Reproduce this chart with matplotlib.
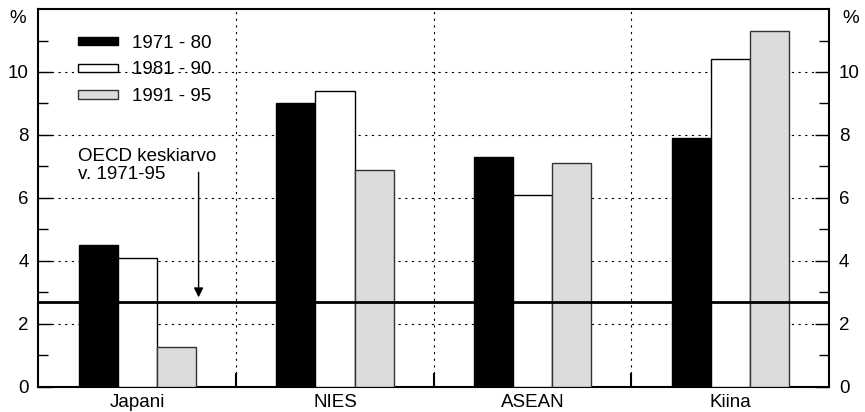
import numpy as np
import matplotlib.pyplot as plt
from matplotlib.patches import Patch

plt.rcParams['font.family'] = ['Liberation Sans', 'DejaVu Sans']

groups = ['Japani', 'NIES', 'ASEAN', 'Kiina']
periods = ['1971 - 80', '1981 - 90', '1991 - 95']
v_7180 = [4.5, 9.0, 7.3, 7.9]
v_8190 = [4.1, 9.4, 6.1, 10.4]
v_9195 = [1.25, 6.9, 7.1, 11.3]
oecd_avg = 2.7

series = [v_7180, v_8190, v_9195]
faces = ['black', 'white', '#dcdcdc']
edges = ['black', 'black', '#333333']
fs = 13.5

fig = plt.figure(figsize=(8.65, 4.12), dpi=100)
ax = fig.add_axes([0.0445, 0.0615, 0.914, 0.9165])

centers = np.arange(len(groups)) + 0.5
w = 0.198
for i, vals in enumerate(series):
    ax.bar(centers + (i - 1) * w, vals, width=w, color=faces[i],
           edgecolor=edges[i], linewidth=1.0, zorder=3, label=periods[i])

ax.axhline(oecd_avg, color='black', linewidth=2, zorder=4)

ax.set_xlim(0, 4)
ax.set_ylim(0, 12)

# grid
for y in [2, 4, 6, 8, 10]:
    ax.axhline(y, color='black', linewidth=0.8, linestyle=(0, (2, 4)), zorder=1)
for x in [1, 2, 3]:
    ax.axvline(x, color='black', linewidth=0.8, linestyle=(0, (2, 4)), zorder=1)

ax.set_yticks([0, 2, 4, 6, 8, 10])
ax.set_yticks(np.arange(1, 12, 2), minor=True)
ax.tick_params(axis='y', which='major', direction='in', length=10, width=1,
               labelsize=fs, left=True, right=True, labelleft=True, labelright=True, pad=7)
ax.tick_params(axis='y', which='minor', direction='in', length=7, width=1,
               left=True, right=True)

ax.set_xticks([1, 2, 3])
ax.set_xticklabels([])
ax.set_xticks(centers, minor=True)
ax.set_xticklabels(groups, minor=True)
ax.tick_params(axis='x', which='major', direction='in', length=10, width=1.5)
ax.tick_params(axis='x', which='minor', length=0, labelsize=fs, pad=5)

for s in ax.spines.values():
    s.set_linewidth(1.5)

fig.text(0.021, 0.955, '%', fontsize=fs, ha='center', va='center')
fig.text(0.983, 0.955, '%', fontsize=fs, ha='center', va='center')

handles = [Patch(facecolor=faces[i], edgecolor=edges[i], linewidth=1.0) for i in range(3)]
ax.legend(handles, periods, loc='upper left', bbox_to_anchor=(0.04, 0.952),
          frameon=False, fontsize=fs, handlelength=2.13, handleheight=0.3,
          labelspacing=0.52, handletextpad=0.75, borderaxespad=0)

ax.text(0.2, 7.6, 'OECD keskiarvo\nv. 1971-95', fontsize=fs, ha='left',
        va='top', linespacing=1.1, zorder=5)
ax.annotate('', xy=(0.81, oecd_avg + 0.05), xytext=(0.81, 6.9),
            arrowprops=dict(arrowstyle='-|>', color='black', lw=1, mutation_scale=14),
            zorder=5)

plt.savefig('out.png', dpi=100)
